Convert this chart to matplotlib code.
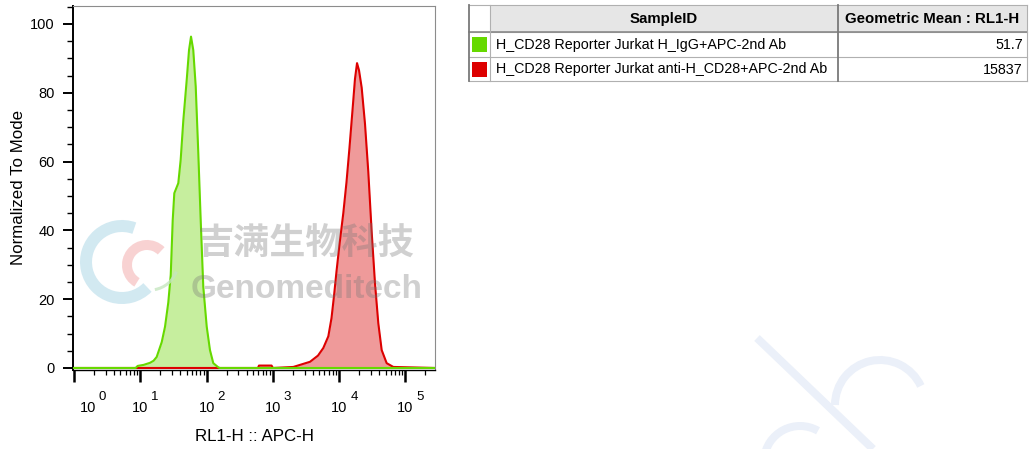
"""
Flow cytometry overlay histogram: H_CD28 Reporter Jurkat, RL1-H (APC-H).
Saves out.png
"""
import numpy as np
import matplotlib
matplotlib.use("Agg")
import matplotlib.pyplot as plt
import matplotlib.transforms as mtransforms
from matplotlib.patches import Rectangle, Arc

plt.rcParams["font.family"] = ["Liberation Sans", "DejaVu Sans"]

# ── Histogram traces (log10 of RL1-H, % of mode) ─────────────────────────────
igg_log = [-0.02, 0.93, 0.96, 1.05, 1.146, 1.20, 1.247, 1.323, 1.373, 1.422,
           1.459, 1.474, 1.489, 1.513, 1.573, 1.609, 1.649, 1.700, 1.735,
           1.765, 1.799, 1.836, 1.875, 1.911, 1.950, 2.002, 2.051, 2.101,
           2.176, 2.20, 5.45]
igg_pct = [0, 0, 0.6, 0.9, 1.5, 2.1, 3.2, 7.5, 12, 19,
           27, 35, 43, 50.8, 53.7, 60.5, 72, 83.7, 92.4,
           96.3, 92.4, 81.8, 62.4, 43, 23.6, 12, 5.2, 1.4,
           0.2, 0, 0]

cd28_log = [-0.02, 2.775, 2.79, 2.98, 3.0, 3.308, 3.560, 3.680, 3.760, 3.836,
            3.884, 3.922, 3.959, 4.005, 4.062, 4.110, 4.155, 4.201, 4.238,
            4.269, 4.299, 4.339, 4.389, 4.439, 4.490, 4.540, 4.590, 4.641,
            4.716, 4.816, 5.45]
cd28_pct = [0, 0, 0.7, 0.7, 0, 0.3, 1.8, 3.6, 5.8, 9.2,
            14.5, 21, 28, 36, 45, 54, 64, 75, 84,
            88.6, 86.5, 81.5, 71, 57, 39.5, 24.6, 13, 5.2,
            1.4, 0.3, 0]

# ── Legend table ─────────────────────────────────────────────────────────────
table_header = ["SampleID", "Geometric Mean : RL1-H"]
sample_ids = ["H_CD28 Reporter Jurkat H_IgG+APC-2nd Ab",
              "H_CD28 Reporter Jurkat anti-H_CD28+APC-2nd Ab"]
geo_means = ["51.7", "15837"]

GREEN_LINE, GREEN_FILL = "#66d900", "#c6ee9e"
RED_LINE, RED_FILL = "#dd0000", "#ef9a9a"
swatch_colors = [GREEN_LINE, RED_LINE]

# ── Figure ───────────────────────────────────────────────────────────────────
W, H = 1030, 449
fig = plt.figure(figsize=(W / 100, H / 100), dpi=100)
ax = fig.add_axes([73 / W, 1 - 369.7 / H, 362 / W, 363.7 / H])

gx = 10 ** np.array(igg_log)
rx = 10 ** np.array(cd28_log)
ax.fill_between(gx, igg_pct, color=GREEN_FILL, lw=0, zorder=1)
ax.fill_between(rx, cd28_pct, color=RED_FILL, lw=0, zorder=1)
ax.plot(rx, cd28_pct, color=RED_LINE, lw=1.5, zorder=2)
ax.plot(gx, igg_pct, color=GREEN_LINE, lw=1.5, zorder=3)

ax.set_xscale("log")
ax.set_xlim(10 ** -0.015, 10 ** 5.445)
ax.set_ylim(-0.5, 105.2)

# spines
for s in ("top", "right"):
    ax.spines[s].set_color("#8c8c8c")
    ax.spines[s].set_linewidth(0.8)
ax.spines["left"].set_linewidth(1.4)
ax.spines["bottom"].set_linewidth(1.0)

# y ticks
ax.set_yticks(range(0, 101, 20))
ax.set_yticks(range(0, 106, 5), minor=True)
ax.tick_params(axis="y", which="major", length=7.2, width=1.4, pad=5.8,
               labelsize=10.5)
ax.tick_params(axis="y", which="minor", length=4.6, width=1.0)

# x ticks
decades = [10.0 ** d for d in range(6)]
minors = [k * 10.0 ** d for d in range(6) for k in range(2, 10)
          if k * 10.0 ** d < 10 ** 5.445]
ax.set_xticks(decades)
ax.set_xticks(minors, minor=True)
ax.tick_params(axis="x", which="major", length=8.6, width=1.8, labelbottom=False)
ax.tick_params(axis="x", which="minor", length=3.8, width=0.9, labelbottom=False)

# decade labels: "10" with a raised exponent
trans = mtransforms.blended_transform_factory(ax.transData, ax.transAxes)
exp_tr = mtransforms.offset_copy(trans, fig=fig, x=11, y=12, units="dots")
for d, v in enumerate(decades):
    xpos = 10 ** 0.21 if d == 0 else v   # FlowJo nudges the first label
    ax.text(xpos, -0.1163, "10", transform=trans, ha="center",
            va="baseline", fontsize=10.5)
    ax.text(xpos, -0.1163, str(d), transform=exp_tr, ha="left",
            va="baseline", fontsize=9.5)

ax.set_xlabel("RL1-H :: APC-H", fontsize=12.2)
ax.xaxis.set_label_coords(0.5, -0.163)
ax.set_ylabel("Normalized To Mode", fontsize=12.2)
ax.yaxis.set_label_coords(-0.13, 0.5)

# ── Overlay in pixel coordinates: watermark + table ──────────────────────────
ov = fig.add_axes([0, 0, 1, 1], zorder=5)
ov.set_xlim(0, W)
ov.set_ylim(H, 0)
ov.axis("off")
ov.patch.set_alpha(0)

px = 72 / 100   # pixels -> points
# logo
ov.add_patch(Arc((122, 262), 72, 72, theta1=45, theta2=290,
                 color="#bfe0ec", lw=12 * px, alpha=0.7))
ov.add_patch(Arc((147, 265), 40, 40, theta1=120, theta2=315,
                 color="#f6c0c0", lw=10 * px, alpha=0.7))
ov.add_patch(Arc((150, 262), 56, 56, theta1=20, theta2=80,
                 color="#c6e6c0", lw=3 * px, alpha=0.8))
ov.text(306, 244, "吉满生物科技", fontsize=26, fontweight="bold",
        family=["Noto Sans CJK SC", "DejaVu Sans"], color="#777777",
        alpha=0.34, ha="center", va="center")
ov.text(307, 290, "Genomeditech", fontsize=24, fontweight="bold",
        color="#777777", alpha=0.34, ha="center", va="center")

# faint mark bottom-right
wm = "#ebf0f9"
ov.plot([757, 873], [338, 449], color=wm, lw=8 * px, solid_capstyle="butt")
ov.add_patch(Arc((880, 405), 90, 90, theta1=180, theta2=335, color=wm,
                 lw=8 * px))
ov.add_patch(Arc((800, 462), 72, 72, theta1=185, theta2=300, color=wm,
                 lw=8 * px))

# table
col_edges = [469, 490, 838, 1027]
row_edges = [5, 32, 57, 81]
ov.add_patch(Rectangle((col_edges[1], row_edges[0]),
                       col_edges[3] - col_edges[1], row_edges[1] - row_edges[0],
                       facecolor="#e6e6e6", edgecolor="none"))
for y in row_edges:
    ov.plot([col_edges[0], col_edges[3]], [y, y], color="#b0b0b0", lw=0.8)
ov.plot([col_edges[0], col_edges[3]], [row_edges[1]] * 2, color="#8a8a8a", lw=1.2)
for i, x in enumerate(col_edges):
    c, lw = ("#7a7a7a", 1.3) if i in (0, 2) else ("#b0b0b0", 0.8)
    ov.plot([x, x], [row_edges[0], row_edges[-1]], color=c, lw=lw)

for j, h in enumerate(table_header):
    xc = (col_edges[j + 1] + col_edges[j + 2]) / 2
    ov.text(xc, (row_edges[0] + row_edges[1]) / 2 + 0.5, h, fontsize=10.8,
            fontweight="bold", ha="center", va="center")

for i, (sid, gm, sc) in enumerate(zip(sample_ids, geo_means, swatch_colors)):
    yc = (row_edges[i + 1] + row_edges[i + 2]) / 2
    ov.add_patch(Rectangle((472, yc - 7.5), 15, 15, facecolor=sc,
                           edgecolor="none"))
    ov.text(col_edges[1] + 6, yc + 0.5, sid, fontsize=10.3, ha="left", va="center")
    ov.text(col_edges[3] - 4, yc + 0.5, gm, fontsize=10.3, ha="right", va="center")

fig.savefig("out.png", dpi=100)
print("Saved → out.png")
